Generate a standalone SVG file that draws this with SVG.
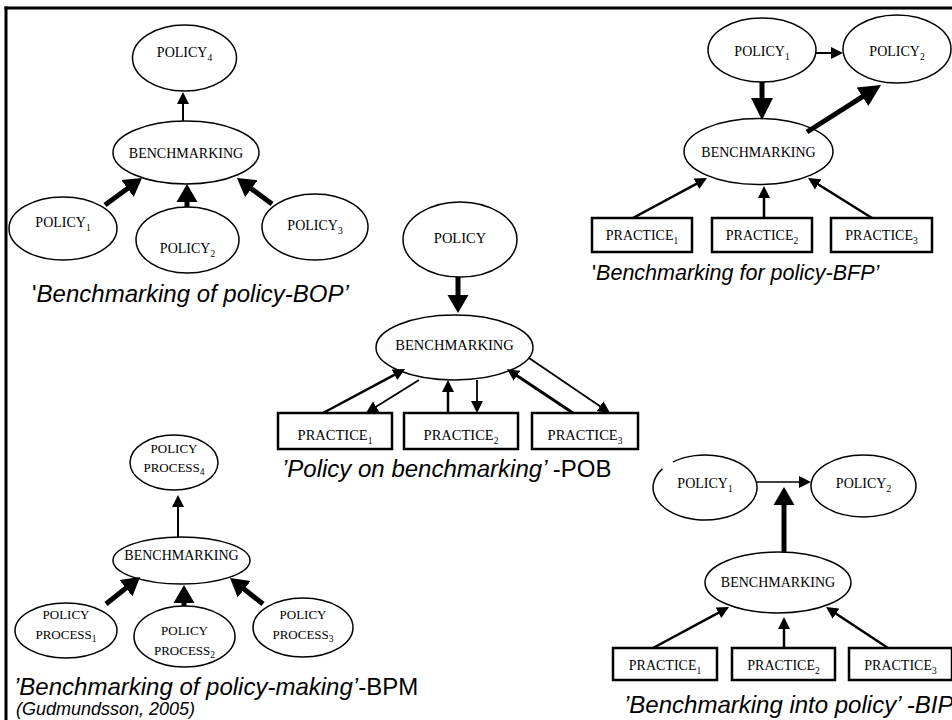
<svg xmlns="http://www.w3.org/2000/svg" width="952" height="720" viewBox="0 0 952 720">
  <style>
    .n { fill: #fff; stroke: #000; stroke-width: 1.5; }
    .box { fill: #fff; stroke: #000; stroke-width: 2.5; }
    .lbl { font-family: "Liberation Serif", "Times New Roman", serif; font-size: 14px; text-anchor: middle; fill: #000; }
    .sm { font-size: 13px; }
    .sub { font-size: 9.5px; }
    .cap { font-family: "Liberation Sans", Arial, sans-serif; font-style: italic; font-size: 24px; fill: #000; }
    .up { font-style: normal; }
    .thin { fill: none; stroke: #000; stroke-width: 2; marker-end: url(#hT); }
    .thick { fill: none; stroke: #000; stroke-width: 5; marker-end: url(#hK); }
    .heavy { fill: none; stroke: #000; stroke-width: 5; marker-end: url(#hK2); }
  </style>
  <defs>
    <marker id="hT" markerUnits="userSpaceOnUse" markerWidth="14" markerHeight="14" viewBox="0 -7 14 14" refX="3" refY="0" orient="auto">
      <path d="M0,-6 L12,0 L0,6 z" fill="#000"/>
    </marker>
    <marker id="hK" markerUnits="userSpaceOnUse" markerWidth="19" markerHeight="22" viewBox="0 -11 19 22" refX="3" refY="0" orient="auto">
      <path d="M0,-10.5 L18,0 L0,10.5 z" fill="#000"/>
    </marker>
    <marker id="hK2" markerUnits="userSpaceOnUse" markerWidth="23" markerHeight="24" viewBox="0 -12 23 24" refX="3" refY="0" orient="auto">
      <path d="M0,-11 L22,0 L0,11 z" fill="#000"/>
    </marker>
  </defs>

  <rect width="952" height="720" fill="#fff"/>
  <!-- frame -->
  <g id="frame" stroke="#000" stroke-width="3" fill="none">
    <line x1="4.5" y1="8" x2="952" y2="8"/>
    <line x1="6" y1="6.5" x2="6" y2="720"/>
  </g>

  <!-- Benchmarking of policy (BOP) -->
  <g id="bop-policy4"><ellipse class="n" cx="184.5" cy="58" rx="52" ry="33"/><text class="lbl" x="184.5" y="57">POLICY<tspan class="sub" dy="4">4</tspan></text></g>
  <g id="bop-bench"><ellipse class="n" cx="186" cy="152.5" rx="73" ry="31.5"/><text class="lbl" x="186" y="158">BENCHMARKING</text></g>
  <g id="bop-policy1"><ellipse class="n" cx="63" cy="228.5" rx="54" ry="31.5"/><text class="lbl" x="63" y="227">POLICY<tspan class="sub" dy="4">1</tspan></text></g>
  <g id="bop-policy2"><ellipse class="n" cx="187.5" cy="240" rx="51.5" ry="33"/><text class="lbl" x="187.5" y="253">POLICY<tspan class="sub" dy="4">2</tspan></text></g>
  <g id="bop-policy3"><ellipse class="n" cx="315" cy="227" rx="53" ry="33"/><text class="lbl" x="315" y="230">POLICY<tspan class="sub" dy="4">3</tspan></text></g>
  <text class="cap" x="32" y="302"><tspan class="up">'</tspan>Benchmarking of policy-BOP’</text>

  <!-- Benchmarking for policy (BFP) -->
  <g id="bfp-policy1"><ellipse class="n" cx="762" cy="50" rx="54" ry="32"/><text class="lbl" x="762" y="56">POLICY<tspan class="sub" dy="4">1</tspan></text></g>
  <g id="bfp-policy2"><ellipse class="n" cx="897" cy="49" rx="54" ry="34"/><text class="lbl" x="897" y="56">POLICY<tspan class="sub" dy="4">2</tspan></text></g>
  <g id="bfp-bench"><ellipse class="n" cx="758.5" cy="151.5" rx="74.5" ry="33"/><text class="lbl" x="758.5" y="157">BENCHMARKING</text></g>
  <g id="bfp-practice1"><rect class="box" x="592" y="218" width="100" height="34"/><text class="lbl" x="642" y="240">PRACTICE<tspan class="sub" dy="4">1</tspan></text></g>
  <g id="bfp-practice2"><rect class="box" x="712" y="218" width="100" height="34"/><text class="lbl" x="762" y="240">PRACTICE<tspan class="sub" dy="4">2</tspan></text></g>
  <g id="bfp-practice3"><rect class="box" x="831" y="218" width="101" height="34"/><text class="lbl" x="881.5" y="240">PRACTICE<tspan class="sub" dy="4">3</tspan></text></g>
  <text class="cap" x="592" y="280" style="font-size:21.5px"><tspan class="up">'</tspan>Benchmarking for policy-BFP’</text>

  <!-- Policy on benchmarking (POB) -->
  <g id="pob-policy"><ellipse class="n" cx="460" cy="239.5" rx="57" ry="37.5"/><text class="lbl" x="460" y="243" style="font-size:14.5px">POLICY</text></g>
  <g id="pob-bench"><ellipse class="n" cx="454.5" cy="347.5" rx="78.5" ry="32.5"/><text class="lbl" x="454.5" y="350" style="font-size:14.5px">BENCHMARKING</text></g>
  <g id="pob-practice1"><rect class="box" x="278" y="413" width="114" height="36"/><text class="lbl" x="335" y="440" style="font-size:14.5px">PRACTICE<tspan class="sub" dy="4">1</tspan></text></g>
  <g id="pob-practice2"><rect class="box" x="404" y="413" width="114" height="36"/><text class="lbl" x="461" y="440" style="font-size:14.5px">PRACTICE<tspan class="sub" dy="4">2</tspan></text></g>
  <g id="pob-practice3"><rect class="box" x="532" y="413" width="106" height="36"/><text class="lbl" x="585" y="440" style="font-size:14.5px">PRACTICE<tspan class="sub" dy="4">3</tspan></text></g>
  <text class="cap" x="282" y="477">’Policy on benchmarking’ <tspan class="up">-POB</tspan></text>

  <!-- Benchmarking of policy-making (BPM) -->
  <g id="bpm-process4"><ellipse class="n" cx="174" cy="462.5" rx="44" ry="27.5"/><text class="lbl sm" x="174" y="453">POLICY</text><text class="lbl sm" x="174" y="472">PROCESS<tspan class="sub" dy="3">4</tspan></text></g>
  <g id="bpm-bench"><ellipse class="n" cx="181.5" cy="560.5" rx="68.5" ry="23.5"/><text class="lbl" x="181.5" y="560">BENCHMARKING</text></g>
  <g id="bpm-process1"><ellipse class="n" cx="66" cy="630.5" rx="51" ry="27.5"/><text class="lbl sm" x="66" y="619">POLICY</text><text class="lbl sm" x="66" y="639">PROCESS<tspan class="sub" dy="3">1</tspan></text></g>
  <g id="bpm-process2"><ellipse class="n" cx="184.5" cy="636.5" rx="50.5" ry="30.5"/><text class="lbl sm" x="184.5" y="635">POLICY</text><text class="lbl sm" x="184.5" y="655">PROCESS<tspan class="sub" dy="3">2</tspan></text></g>
  <g id="bpm-process3"><ellipse class="n" cx="303" cy="627.5" rx="50" ry="29.5"/><text class="lbl sm" x="303" y="619">POLICY</text><text class="lbl sm" x="303" y="639">PROCESS<tspan class="sub" dy="3">3</tspan></text></g>
  <text class="cap" x="14" y="695">’Benchmarking of policy-making’<tspan class="up">-BPM</tspan></text>
  <text class="cap" x="16" y="715" style="font-size:18px">(Gudmundsson, 2005)</text>

  <!-- Benchmarking into policy (BIP) -->
  <g id="bip-policy1"><path class="n" d="M673,461.9 A52,32.5 0 1 1 662.4,468.9"/><text class="lbl" x="705" y="488">POLICY<tspan class="sub" dy="4">1</tspan></text></g>
  <g id="bip-policy2"><ellipse class="n" cx="863.5" cy="486" rx="52.5" ry="31"/><text class="lbl" x="863.5" y="488">POLICY<tspan class="sub" dy="4">2</tspan></text></g>
  <g id="bip-bench"><ellipse class="n" cx="778" cy="582.5" rx="73" ry="30.5"/><text class="lbl" x="778" y="587">BENCHMARKING</text></g>
  <g id="bip-practice1"><rect class="box" x="613" y="648" width="104" height="32"/><text class="lbl" x="665" y="670">PRACTICE<tspan class="sub" dy="4">1</tspan></text></g>
  <g id="bip-practice2"><rect class="box" x="732" y="648" width="103" height="32"/><text class="lbl" x="783.5" y="670">PRACTICE<tspan class="sub" dy="4">2</tspan></text></g>
  <g id="bip-practice3"><rect class="box" x="849" y="648" width="103" height="32"/><text class="lbl" x="900.5" y="670">PRACTICE<tspan class="sub" dy="4">3</tspan></text></g>
  <text class="cap" x="624" y="713">’Benchmarking into policy’ -BIP</text>

  <!-- connectors -->
  <g id="connectors">
    <!-- BOP -->
    <line class="thin" x1="183" y1="121" x2="183" y2="101"/>
    <line class="thick" x1="105" y1="205" x2="129.9" y2="186.8"/>
    <line class="thick" x1="187" y1="207" x2="187" y2="199"/>
    <line class="thick" x1="272" y1="204" x2="249" y2="186.9"/>
    <!-- BFP -->
    <line class="thin" x1="816" y1="53" x2="834" y2="53"/>
    <line class="heavy" x1="762" y1="82" x2="762" y2="101"/>
    <line class="heavy" x1="807" y1="132" x2="865" y2="95.2"/>
    <line class="thin" x1="633" y1="218" x2="699.1" y2="182.3" style="stroke-width:2.5"/>
    <line class="thin" x1="764" y1="218" x2="764" y2="195" style="stroke-width:2.5"/>
    <line class="thin" x1="872" y1="218" x2="815.6" y2="182.8" style="stroke-width:2.5"/>
    <!-- POB -->
    <line class="thick" x1="458" y1="277" x2="458" y2="298"/>
    <line class="thin" x1="323" y1="413" x2="397.1" y2="373.3" style="stroke-width:2.5"/>
    <line class="thin" x1="419" y1="380" x2="373.6" y2="408.2" style="stroke-width:1.8"/>
    <line class="thin" x1="448" y1="413" x2="448" y2="389" style="stroke-width:2.5"/>
    <line class="thin" x1="477" y1="380" x2="477" y2="404" style="stroke-width:1.8"/>
    <line class="thin" x1="573" y1="413" x2="514.5" y2="374" style="stroke-width:3"/>
    <line class="thin" x1="529" y1="358" x2="602.6" y2="407.9" style="stroke-width:1.8"/>
    <!-- BPM -->
    <line class="thin" x1="178" y1="537" x2="178" y2="504"/>
    <line class="thick" x1="106" y1="604" x2="128.3" y2="586.3"/>
    <line class="thick" x1="184" y1="606" x2="184" y2="600"/>
    <line class="thick" x1="263" y1="604" x2="241.8" y2="587.3"/>
    <!-- BIP -->
    <line class="thin" x1="757" y1="482" x2="802" y2="482" style="stroke-width:1.5"/>
    <line class="thick" x1="784" y1="552" x2="784" y2="502"/>
    <line class="thin" x1="653" y1="648" x2="721.1" y2="611.3" style="stroke-width:2.5"/>
    <line class="thin" x1="784" y1="648" x2="784" y2="626" style="stroke-width:2.5"/>
    <line class="thin" x1="888" y1="648" x2="833.5" y2="612" style="stroke-width:2.5"/>
  </g>
</svg>
